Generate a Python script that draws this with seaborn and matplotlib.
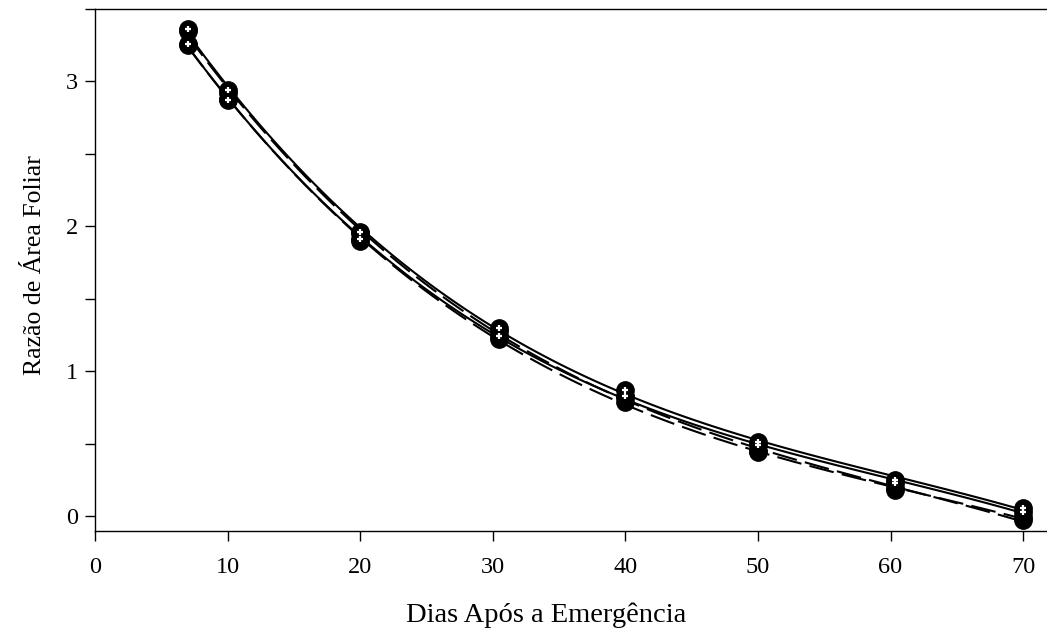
import numpy as np
import pandas as pd
import matplotlib
matplotlib.use("Agg")
import matplotlib.pyplot as plt
import seaborn as sns
from matplotlib.ticker import MultipleLocator

# Data (Dias Após a Emergência vs Razão de Área Foliar)
dias = [7, 10, 20, 30.5, 40, 50, 60.3, 70]
serie_a = [3.36, 2.94, 1.96, 1.30, 0.87, 0.51, 0.25, 0.055]
serie_b = [3.26, 2.87, 1.91, 1.24, 0.83, 0.49, 0.23, 0.03]
serie_c = [3.35, 2.92, 1.95, 1.28, 0.82, 0.45, 0.19, -0.03]
serie_d = [3.25, 2.88, 1.90, 1.22, 0.79, 0.44, 0.18, -0.01]
x_ticks = [0, 10, 20, 30, 40, 50, 60, 70]
y_ticks = [0, 1, 2, 3]

sns.set_theme(style="ticks")
plt.rcParams['font.family'] = ['Liberation Serif', 'DejaVu Serif']

fig = plt.figure(figsize=(10.47, 6.33), dpi=100)
ax = fig.add_axes([0.0907, 0.161, 0.9093, 0.825])

series = [(serie_a, '-'), (serie_b, '-'), (serie_c, (0, (12, 4))), (serie_d, (0, (12, 4)))]
for vals, ls in series:
    df = pd.DataFrame({'x': dias, 'y': vals})
    sns.regplot(data=df, x='x', y='y', order=3, ci=None, scatter=False, ax=ax,
                truncate=True,
                line_kws=dict(color='black', lw=1.5, linestyle=ls))

for vals, ls in series:
    df = pd.DataFrame({'x': dias, 'y': vals})
    sns.scatterplot(data=df, x='x', y='y', ax=ax, marker='o', s=160, color='black',
                    edgecolor='black', linewidth=0.8, zorder=5)
for vals in [serie_a, serie_b]:
    df = pd.DataFrame({'x': dias, 'y': vals})
    sns.scatterplot(data=df, x='x', y='y', ax=ax, marker='+', s=20, color='white',
                    linewidth=1.6, zorder=6)

ax.set_xlim(0, 71.8)
ax.set_ylim(-0.104, 3.5)
ax.set_xticks(x_ticks)
ax.set_yticks(y_ticks)
ax.yaxis.set_minor_locator(MultipleLocator(0.5))
ax.tick_params(axis='both', which='major', direction='out', length=7, width=1,
               labelsize=17.5, color='black', labelcolor='black')
ax.tick_params(axis='y', which='minor', direction='out', length=7, width=1, color='black')
ax.tick_params(axis='x', pad=12)
ax.tick_params(axis='y', pad=5)
for s in ['left', 'bottom', 'top']:
    ax.spines[s].set_color('black')
    ax.spines[s].set_linewidth(1.0)
ax.spines['right'].set_visible(False)

ax.set_xlabel('Dias Após a Emergência', fontsize=20.5, color='black')
ax.set_ylabel('Razão de Área Foliar', fontsize=18.5, color='black')
ax.xaxis.set_label_coords(0.474, -0.136)
ax.yaxis.set_label_coords(-0.051, 0.51)

fig.savefig('out.png', dpi=100, facecolor='white')
